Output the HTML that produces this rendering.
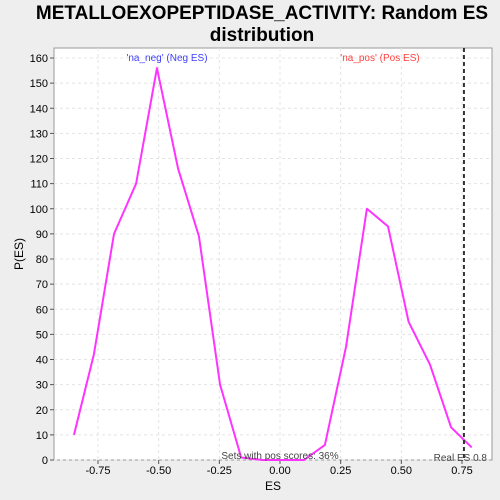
<!DOCTYPE html>
<html><head><meta charset="utf-8"><style>
html,body{margin:0;padding:0;background:#eeeeee;}
svg{display:block;font-family:"Liberation Sans","DejaVu Sans",sans-serif;}
</style></head><body>
<svg id="chart" width="500" height="500">
<text x="262" y="19" text-anchor="middle" font-size="19" font-weight="bold">METALLOEXOPEPTIDASE_ACTIVITY: Random ES</text>
<text x="262" y="41" text-anchor="middle" font-size="19" font-weight="bold">distribution</text>
<rect x="54" y="48" width="438" height="412" fill="#ffffff" stroke="#999"/>
<g id="grid"></g><g id="axes"></g><g id="series"></g>
<text x="167" y="61" text-anchor="middle" font-size="10" fill="#4040ff">'na_neg' (Neg ES)</text>
<text x="380" y="61" text-anchor="middle" font-size="10" fill="#ff4040">'na_pos' (Pos ES)</text>
<text x="280" y="459" text-anchor="middle" font-size="10" fill="#444">Sets with pos scores: 36%</text>
<text x="487" y="461" text-anchor="end" font-size="10" fill="#444">Real ES 0.8</text>
<text x="273" y="490" text-anchor="middle" font-size="12">ES</text>
<text x="23" y="254" text-anchor="middle" font-size="12" transform="rotate(-90 23 254)">P(ES)</text>
</svg>
<script>
const esValues=[-0.849,-0.767,-0.684,-0.593,-0.507,-0.42,-0.334,-0.247,-0.16,-0.074,0.012,0.099,0.185,0.272,0.358,0.445,0.53,0.618,0.705,0.79];
const pValues=[10,42,90,110,156,116,89,30,1,0,0,0,6,45,100,93,55,38,13,5];
const xTicks=[-0.75,-0.5,-0.25,0,0.25,0.5,0.75];
const xTickLabels=["-0.75","-0.50","-0.25","0.00","0.25","0.50","0.75"];
const yTicks=[0,10,20,30,40,50,60,70,80,90,100,110,120,130,140,150,160];
const realES=[0.758];
const NS="http://www.w3.org/2000/svg";
function xs(v){return 280+v*242.67;}
function ys(v){return 460-v*2.5125;}
function mk(t,a,p){const e=document.createElementNS(NS,t);for(const k in a)e.setAttribute(k,a[k]);p.appendChild(e);return e;}
const grid=document.getElementById('grid'),axes=document.getElementById('axes'),series=document.getElementById('series');
yTicks.forEach(v=>{
 const g=mk('line',{x1:54,x2:492,y1:ys(v),y2:ys(v),stroke:'#e4e4e4','stroke-dasharray':'3,3'},grid);
 
 
 const t=mk('line',{x1:50,x2:54,y1:ys(v),y2:ys(v),stroke:'#555'},axes);
 
 
 const l=mk('text',{x:48,y:ys(v)+4,'text-anchor':'end','font-size':11},axes);
 l.textContent=v;
 
 
});
xTicks.forEach((v,i)=>{
 const g=mk('line',{x1:xs(v),x2:xs(v),y1:48,y2:460,stroke:'#e4e4e4','stroke-dasharray':'3,3'},grid);
 
 
 const t=mk('line',{x1:xs(v),x2:xs(v),y1:460,y2:464,stroke:'#555'},axes);
 
 
 const l=mk('text',{x:xs(v),y:474,'text-anchor':'middle','font-size':11},axes);
 l.textContent=xTickLabels[i];
 
 
});
const pts=esValues.map((v,i)=>xs(v)+','+ys(pValues[i])).join(' ');
const pl=mk('polyline',{points:pts,fill:'none',stroke:'#ff33ff','stroke-width':2,'stroke-linejoin':'round'},series);


const rl=mk('line',{x1:xs(realES[0]),x2:xs(realES[0]),y1:48,y2:460,stroke:'#333','stroke-width':2,'stroke-dasharray':'4,3'},series);


</script>
</body></html>
